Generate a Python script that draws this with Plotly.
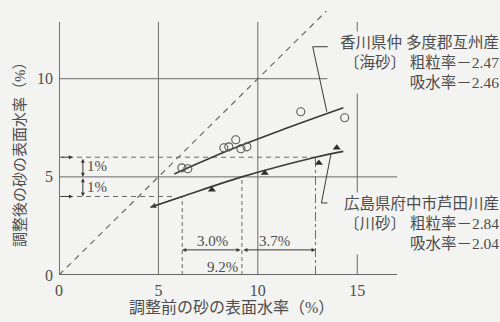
import plotly.graph_objects as go

# ---- data -------------------------------------------------------------
x_ticks = [0, 5, 10, 15]
y_ticks = [0, 5, 10]

# sea sand, Kagawa (open circles) and its fitted curve
sea_x = [6.18, 6.48, 8.29, 8.54, 8.89, 9.15, 9.45, 12.16, 14.37]
sea_y = [5.46, 5.41, 6.48, 6.53, 6.89, 6.43, 6.53, 8.32, 8.01]
sea_fit_x = [5.8, 8.6, 11.5, 14.3]
sea_fit_y = [5.15, 6.38, 7.5, 8.52]

# river sand, Hiroshima (filled triangles) and its fitted curve
river_x = [7.69, 10.35, 13.07, 13.97]
river_y = [4.34, 5.20, 5.71, 6.48]
river_fit_x = [4.6, 6.2, 9.2, 12.9, 14.3]
river_fit_y = [3.45, 4.0, 5.0, 6.0, 6.3]

# target band 5 % ± 1 % and the matching moisture before adjustment
band_y = [4, 5, 6]
band_x = [6.2, 9.2, 12.9]
band_labels = ["3.0%", "3.7%"]
mid_label = "9.2%"
step_label = "1%"

sea_text = ["香川県仲 多度郡亙州産", "〔海砂〕 粗粒率－2.47", "吸水率－2.46"]
river_text = ["広島県府中市芦田川産", "〔川砂〕 粗粒率－2.84", "吸水率－2.04"]

x_title = "調整前の砂の表面水率（%）"
y_title = "調整後の砂の表面水率（%）"

# ---- style ------------------------------------------------------------
BG = "#f3f3f1"
INK = "#3a3a3a"
GRID = "#6a6a6a"
TXT = "#4d4d4d"
SERIF = "Liberation Serif, DejaVu Serif, Noto Sans CJK JP"
JP = "Liberation Serif, Noto Sans CJK JP"

X_MAX = 17.0
Y_MAX = 13.45
Y_TOP = 12.9  # top of the drawn frame
PLOT_W = 338.3
PLOT_H = 263.6

fig = go.Figure()

# frame and grid
shapes = []
def seg(x0, y0, x1, y1, color=GRID, width=1.0, dash="solid"):
    shapes.append(dict(type="line", xref="x", yref="y", x0=x0, y0=y0, x1=x1, y1=y1,
                       line=dict(color=color, width=width, dash=dash), layer="below"))

seg(0, 0, 0, Y_TOP, INK, 1.4)
seg(0, 0, X_MAX, 0, INK, 1.4)
for xv in x_ticks[1:]:
    seg(xv, 0, xv, Y_TOP)
seg(0, y_ticks[1], X_MAX, y_ticks[1])
seg(0, y_ticks[2], 13.5, y_ticks[2])

# equality line
fig.add_trace(go.Scatter(x=[0, Y_MAX], y=[0, Y_MAX], mode="lines",
                         line=dict(color=GRID, width=1.2, dash="6px,5px"),
                         hoverinfo="skip", showlegend=False))

# target band guides
fig.add_trace(go.Scatter(x=[0, band_x[2]], y=[band_y[2], band_y[2]], mode="lines",
                         line=dict(color=GRID, width=1.0, dash="5px,4px"), showlegend=False))
fig.add_trace(go.Scatter(x=[0, band_x[0] - 0.5], y=[band_y[0], band_y[0]], mode="lines",
                         line=dict(color=GRID, width=1.0, dash="5px,4px"), showlegend=False))
fig.add_trace(go.Scatter(x=[band_x[0], band_x[0]], y=[0, band_y[0]], mode="lines",
                         line=dict(color=GRID, width=1.0, dash="4px,3px"), showlegend=False))
fig.add_trace(go.Scatter(x=[band_x[1], band_x[1]], y=[0, band_y[1]], mode="lines",
                         line=dict(color=GRID, width=1.0, dash="4px,3px"), showlegend=False))
fig.add_trace(go.Scatter(x=[band_x[2], band_x[2]], y=[0, band_y[2]], mode="lines",
                         line=dict(color=GRID, width=1.0, dash="dashdot"), showlegend=False))

# fitted curves
fig.add_trace(go.Scatter(x=sea_fit_x, y=sea_fit_y, mode="lines",
                         line=dict(color=INK, width=1.6, shape="spline"), showlegend=False))
fig.add_trace(go.Scatter(x=river_fit_x, y=river_fit_y, mode="lines",
                         line=dict(color=INK, width=1.6, shape="spline"), showlegend=False))

# measured points
fig.add_trace(go.Scatter(x=sea_x, y=sea_y, mode="markers",
                         marker=dict(symbol="circle-open", size=8, color="#5a5a5a",
                                     line=dict(width=1.1)), showlegend=False))
fig.add_trace(go.Scatter(x=river_x, y=river_y, mode="markers",
                         marker=dict(symbol="triangle-up", size=7, color="#2e2e2e"),
                         showlegend=False))

# leader lines from the labels to the curves
fig.add_trace(go.Scatter(x=[13.52, 12.76, 13.47], y=[11.63, 11.63, 8.32], mode="lines",
                         line=dict(color=INK, width=1.0), showlegend=False))
fig.add_trace(go.Scatter(x=[13.5, 13.2, 13.67], y=[3.67, 3.67, 6.12], mode="lines",
                         line=dict(color=INK, width=1.0), showlegend=False))

ann = []

def arrow(x_head, y_head, x_tail, y_tail, both=False, size=0.8):
    ann.append(dict(x=x_head, y=y_head, ax=x_tail, ay=y_tail, xref="x", yref="y",
                    axref="x", ayref="y", text="", showarrow=True, arrowhead=2,
                    arrowsize=size, arrowwidth=1.0, arrowcolor=INK,
                    arrowside="end+start" if both else "end"))

# arrowhead at the lower end of the river-sand curve
arrow(river_fit_x[0], river_fit_y[0], river_fit_x[1], river_fit_y[1], size=1.1)

# 1 % steps
arrow(1.2, band_y[1], 1.2, band_y[2], both=True)
arrow(1.2, band_y[0], 1.2, band_y[1], both=True)
arrow(0.7, band_y[2], 0.05, band_y[2])
arrow(0.7, band_y[0], 0.05, band_y[0])

# spans between the band crossings
arrow(band_x[0], 1.28, band_x[1], 1.28, both=True)
arrow(band_x[2], 1.28, band_x[1], 1.28, both=True)

for yv in (5.55, 4.5):
    ann.append(dict(x=1.3, y=yv, xref="x", yref="y", text=step_label, showarrow=False,
                    xanchor="left", font=dict(family=SERIF, size=15, color=TXT)))

ann.append(dict(x=(band_x[0] + band_x[1]) / 2, y=1.72, xref="x", yref="y",
                text=band_labels[0], showarrow=False,
                font=dict(family=SERIF, size=15, color=TXT)))
ann.append(dict(x=(band_x[1] + band_x[2]) / 2 - 0.2, y=1.72, xref="x", yref="y",
                text=band_labels[1], showarrow=False,
                font=dict(family=SERIF, size=15, color=TXT)))
ann.append(dict(x=band_x[1] - 0.1, y=0.42, xref="x", yref="y", text=mid_label,
                showarrow=False, xanchor="right",
                font=dict(family=SERIF, size=15, color=TXT)))

# sample labels
for lines, yc in ((sea_text, 10.82), (river_text, 2.60)):
    ann.append(dict(x=1.312, y=yc, xref="paper", yref="y", text="<br>".join(lines),
                    showarrow=False, xanchor="right", yanchor="middle", align="right",
                    bgcolor=BG, borderpad=2,
                    font=dict(family=JP, size=15.5, color=TXT)))

# axis titles
ann.append(dict(x=0.51, y=-32 / PLOT_H, xref="paper", yref="paper",
                text=x_title, showarrow=False, yanchor="middle",
                font=dict(family=JP, size=16, color=TXT)))
ann.append(dict(x=-39 / PLOT_W, y=0.47, xref="paper", yref="paper",
                text=y_title, showarrow=False, textangle=-90, xanchor="center",
                font=dict(family=JP, size=15, color=TXT)))

fig.update_layout(
    width=500, height=322,
    margin=dict(l=59, r=500 - 59 - PLOT_W, t=322 - 47 - PLOT_H, b=47),
    paper_bgcolor=BG, plot_bgcolor=BG,
    shapes=shapes, annotations=ann, showlegend=False,
    xaxis=dict(range=[0, X_MAX], tickvals=x_ticks, showgrid=False, zeroline=False,
               showline=False, ticks="", ticklabelstandoff=4,
               tickfont=dict(family=SERIF, size=16, color=TXT)),
    yaxis=dict(range=[0, Y_MAX], tickvals=y_ticks, showgrid=False, zeroline=False,
               showline=False, ticks="", ticklabelstandoff=5,
               tickfont=dict(family=SERIF, size=16, color=TXT)),
)

fig.write_html("out.html")
